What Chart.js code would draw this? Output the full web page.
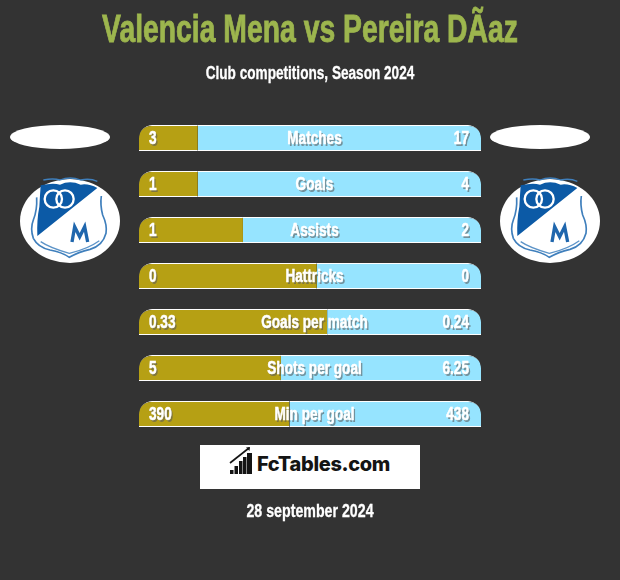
<!DOCTYPE html>
<html>
<head>
<meta charset="utf-8">
<title>Valencia Mena vs Pereira DÃaz</title>
<script src="https://cdn.jsdelivr.net/npm/chart.js@4/dist/chart.umd.min.js"></script>
<style>
  html, body { margin: 0; padding: 0; background: #333333; }
  #wrap { position: relative; width: 620px; height: 580px; overflow: hidden; font-family: "Liberation Sans", sans-serif; font-weight: bold; }
  #chart { position: absolute; left: 0; top: 0; }
  .txt { position: absolute; left: 0; width: 620px; text-align: center; white-space: nowrap; transform-origin: 310px 50%; }
  #title { top: 6px; font-size: 37px; line-height: 46px; color: #9db64e; transform: scale(0.766, 1.06); -webkit-text-stroke: 0.8px #9db64e; }
  #sub { top: 64px; font-size: 17px; line-height: 20px; color: #fff; transform: scale(0.80, 1.05); -webkit-text-stroke: 0.3px #fff; }
  #date { top: 502px; font-size: 17px; line-height: 20px; color: #fff; transform: scale(0.835, 1.05); -webkit-text-stroke: 0.3px #fff; }
  #logo { position: absolute; left: 200px; top: 445px; width: 220px; height: 44px; background: #fff; }
  #logo span { position: absolute; left: 57px; top: 3px; font: 800 20px/32px Inter, "Open Sans", sans-serif; color: #141414; letter-spacing: -0.35px; }
  .oval { position: absolute; top: 125px; width: 100px; height: 24px; border-radius: 50%; background: #fff; }
  .crest { position: absolute; top: 170px; }
</style>
</head>
<body>
<div id="wrap">
  <canvas id="chart" width="620" height="580"></canvas>
  <div class="txt" id="title">Valencia Mena vs Pereira DÃaz</div>
  <div class="txt" id="sub">Club competitions, Season 2024</div>
  <div class="oval" style="left:10px"></div>
  <div class="oval" style="left:490px"></div>
  <svg class="crest" style="left:10px" width="120" height="100" viewBox="0 0 360 300"><use href="#badge"/></svg>
  <svg class="crest" style="left:490px" width="120" height="100" viewBox="0 0 360 300">
    <defs>
      <g id="badge">
        <ellipse cx="180" cy="153" rx="150" ry="126" fill="#fff"/>
        <path d="M92 46 Q128 38 150 44 Q180 30 212 44 Q236 40 262 54 L82 198 Q80 150 88 110 Q90 75 92 46Z" fill="#0c5aa6"/>
        <circle cx="130" cy="87" r="26" fill="none" stroke="#fff" stroke-width="7"/>
        <circle cx="165" cy="87" r="26" fill="none" stroke="#fff" stroke-width="7"/>
        <path d="M100 30 Q130 24 150 30 Q180 18 212 30 Q240 24 262 34" fill="none" stroke="#3f7fbc" stroke-width="4"/>
        <path d="M80 82 Q82 120 70 150 Q60 175 70 205 Q84 232 120 240 Q155 246 178 262 Q205 246 240 238 Q278 228 288 190 Q292 165 278 135 Q270 105 274 78" fill="none" stroke="#3f7fbc" stroke-width="5"/>
        <path d="M92 215 Q120 234 178 250 Q235 236 268 212" fill="none" stroke="#5d94c8" stroke-width="4"/>
        <path d="M186 216 L194 170 L209 200 L224 170 L233 216" fill="none" stroke="#1f66ad" stroke-width="10"/>
      </g>
    </defs>
    <use href="#badge"/>
  </svg>
  <div id="logo">
    <svg width="56" height="44" style="position:absolute;left:0;top:0">
      <path d="M30 18 L49 3" stroke="#141414" stroke-width="1.6" fill="none"/>
      <path d="M46 2.5 L50 2 L49.5 6 Z" fill="#141414"/>
      <rect x="30" y="25" width="3.5" height="4" fill="#141414"/>
      <rect x="34.5" y="21" width="3.5" height="8" fill="#141414"/>
      <rect x="39" y="16" width="3.5" height="13" fill="#141414"/>
      <rect x="43" y="12" width="3.5" height="17" fill="#141414"/>
      <rect x="47" y="8" width="5" height="21" fill="#141414"/>
    </svg>
    <span>FcTables.com</span>
  </div>
  <div class="txt" id="date">28 september 2024</div>
</div>
<script>
const categories = ["Matches", "Goals", "Assists", "Hattricks", "Goals per match", "Shots per goal", "Min per goal"];
const leftLabels = ["3", "1", "1", "0", "0.33", "5", "390"];
const rightLabels = ["17", "4", "2", "0", "0.24", "6.25", "438"];
// share of each bar
const leftShare = [17.2, 17.2, 30.4, 52, 55, 41.5, 44];
const rightShare = [82.8, 82.8, 69.6, 48, 45, 58.5, 56];

const GOLD = "#b6a014";
const BLUE = "#96e4ff";

// labels are squeezed sideways, the narrow face is not installed
function shadowText(ctx, text, x, y, align) {
  ctx.save();
  ctx.translate(x, y);
  ctx.scale(0.8, 1.1);
  ctx.textAlign = align;
  ctx.lineWidth = 0.5;
  ctx.fillStyle = ctx.strokeStyle = "rgba(90,90,90,0.6)";
  ctx.fillText(text, 2, 2);
  ctx.fillStyle = ctx.strokeStyle = "#ffffff";
  ctx.strokeText(text, 0, 0);
  ctx.fillText(text, 0, 0);
  ctx.restore();
}

const barLabels = {
  id: "barLabels",
  afterDatasetsDraw(chart) {
    const ctx = chart.ctx;
    const area = chart.chartArea;
    ctx.save();
    ctx.font = 'bold 17px "Liberation Sans", sans-serif';
    ctx.textBaseline = "middle";
    categories.forEach((name, i) => {
      const y = chart.scales.y.getPixelForValue(i) + 1;
      shadowText(ctx, name, (area.left + area.right) / 2 + 4.5, y, "center");
      shadowText(ctx, leftLabels[i], area.left + 10, y, "left");
      shadowText(ctx, rightLabels[i], area.right - 12, y, "right");
    });
    ctx.restore();
  }
};

new Chart(document.getElementById("chart"), {
  type: "bar",
  data: {
    labels: categories,
    datasets: [
      {
        data: leftShare,
        backgroundColor: GOLD,
        borderColor: "#ffffff",
        borderWidth: { top: 1, bottom: 1, left: 0, right: 0 },
        borderSkipped: false,
        borderRadius: { topLeft: 13, topRight: 0, bottomLeft: 0, bottomRight: 0 },
        inflateAmount: 0
      },
      {
        data: rightShare,
        backgroundColor: BLUE,
        borderColor: "#ffffff",
        borderWidth: { top: 1, bottom: 1, left: 0, right: 0 },
        borderSkipped: false,
        borderRadius: { topLeft: 0, topRight: 13, bottomLeft: 0, bottomRight: 0 },
        inflateAmount: 0
      }
    ]
  },
  options: {
    indexAxis: "y",
    responsive: false,
    animation: false,
    barThickness: 26,
    layout: { padding: { left: 139, right: 139, top: 115, bottom: 143 } },
    plugins: { legend: { display: false }, tooltip: { enabled: false } },
    scales: {
      x: { display: false, stacked: true, min: 0, max: 100 },
      y: { display: false, stacked: true }
    }
  },
  plugins: [barLabels]
});
</script>
</body>
</html>
